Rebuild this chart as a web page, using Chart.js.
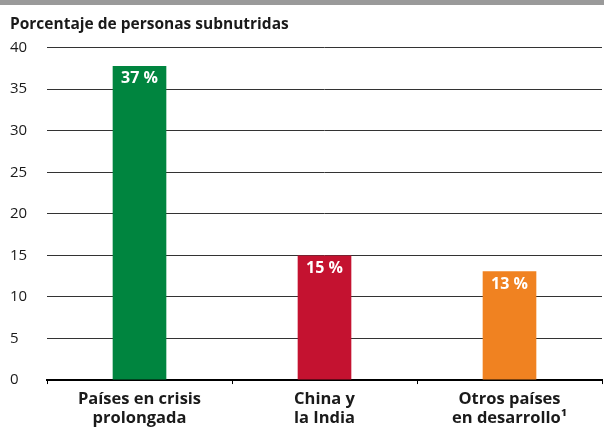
<!DOCTYPE html>
<html>
<head>
    <meta charset="utf-8">
    <title>Porcentaje de personas subnutridas</title>
    <script src="https://cdn.jsdelivr.net/npm/chart.js@4.4.0/dist/chart.umd.min.js"></script>
    <style>
        html, body {
            margin: 0;
            padding: 0;
            background: #ffffff;
        }
        .chart-wrapper {
            position: relative;
            width: 604px;
            height: 434px;
        }
    </style>
</head>
<body>
    <div class="chart-wrapper">
        <canvas id="hungerChart"></canvas>
    </div>

    <script>
        // Data
        const categories = [
            ['Países en crisis', 'prolongada'],
            ['China y', 'la India'],
            ['Otros países', 'en desarrollo¹']
        ];
        const shares = [37.8, 15.0, 13.1];
        const shareLabels = ['37 %', '15 %', '13 %'];
        const barColors = ['#00853F', '#C41230', '#F08221'];
        const yTicks = [0, 5, 10, 15, 20, 25, 30, 35, 40];

        const fontFamily = '"Open Sans", "Noto Sans", Arial, sans-serif';

        // grey band at the top and the white labels inside the bars
        const decorations = {
            id: 'decorations',
            beforeDraw(chart) {
                const ctx = chart.ctx;
                ctx.save();
                ctx.fillStyle = '#9a9a9a';
                ctx.fillRect(0, 0, chart.width, 5);
                ctx.restore();
            },
            afterDatasetsDraw(chart) {
                const ctx = chart.ctx;
                const meta = chart.getDatasetMeta(0);
                ctx.save();
                ctx.fillStyle = '#ffffff';
                ctx.font = 'bold 16px ' + fontFamily;
                ctx.textAlign = 'center';
                ctx.textBaseline = 'middle';
                meta.data.forEach((bar, i) => {
                    ctx.fillText(shareLabels[i], bar.x, bar.y + 13);
                });
                ctx.restore();
            }
        };

        new Chart(document.getElementById('hungerChart'), {
            type: 'bar',
            data: {
                labels: categories,
                datasets: [{
                    data: shares,
                    backgroundColor: barColors,
                    categoryPercentage: 1,
                    barPercentage: 0.29
                }]
            },
            options: {
                responsive: true,
                maintainAspectRatio: false,
                animation: false,
                layout: {
                    padding: { left: 10, right: 2, top: 0, bottom: 0 }
                },
                plugins: {
                    legend: { display: false },
                    tooltip: { enabled: false },
                    title: {
                        display: true,
                        text: 'Porcentaje de personas subnutridas',
                        align: 'start',
                        color: '#1a1a1a',
                        font: { family: fontFamily, size: 15.5, weight: 'bold' },
                        padding: { top: 15, bottom: 14 }
                    }
                },
                scales: {
                    x: {
                        offset: true,
                        border: { color: '#000000', width: 2 },
                        grid: {
                            display: true,
                            offset: true,
                            drawOnChartArea: false,
                            drawTicks: true,
                            tickLength: 4,
                            color: '#000000'
                        },
                        ticks: {
                            color: '#1a1a1a',
                            padding: 6,
                            font: { family: fontFamily, size: 16.5, weight: 'bold', lineHeight: 1.15 }
                        }
                    },
                    y: {
                        min: 0,
                        max: 40,
                        afterBuildTicks(scale) {
                            scale.ticks = yTicks.map(v => ({ value: v }));
                        },
                        afterFit(scale) {
                            scale.width = 37;
                        },
                        border: { display: false },
                        grid: {
                            color: '#333333',
                            lineWidth: 1,
                            drawTicks: false
                        },
                        ticks: {
                            crossAlign: 'far',
                            padding: 8,
                            color: '#1a1a1a',
                            font: { family: fontFamily, size: 15 }
                        }
                    }
                }
            },
            plugins: [decorations]
        });
    </script>
</body>
</html>
